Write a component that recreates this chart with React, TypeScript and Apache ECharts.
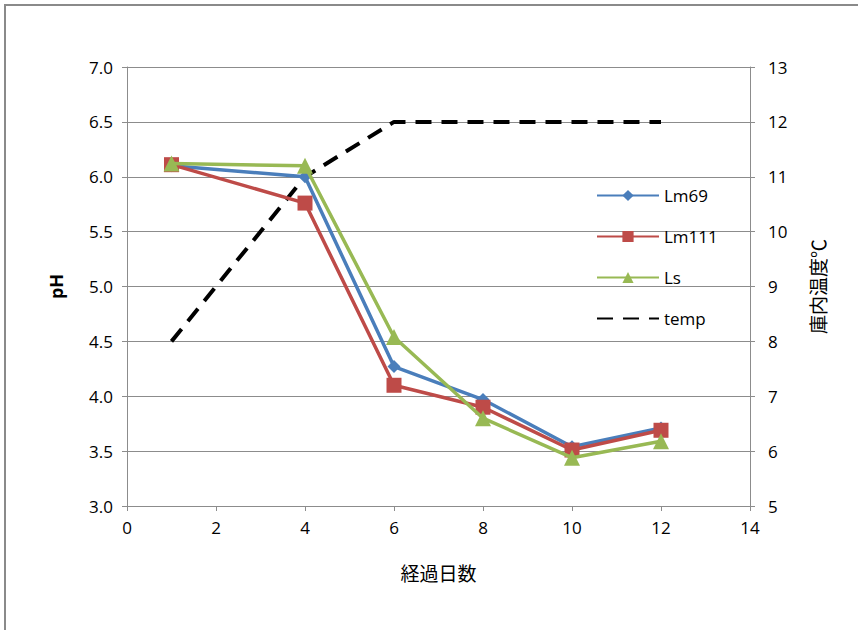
import React, { useEffect, useRef } from "react";
import * as echarts from "echarts";

// Storage days and measured values
const days = [1, 4, 6, 8, 10, 12];
const lm69 = [6.1, 6.0, 4.27, 3.97, 3.54, 3.71];
const lm111 = [6.11, 5.76, 4.1, 3.9, 3.51, 3.69];
const ls = [6.12, 6.1, 4.54, 3.8, 3.44, 3.59];
const temp = [8, 11, 12, 12, 12, 12];

const seriesNames = ["Lm69", "Lm111", "Ls", "temp"];
const xTitle = "経過日数";
const yLeftTitle = "pH";
const yRightTitle = "庫内温度℃";

const FONT = "'Open Sans', 'Liberation Sans', 'Noto Sans CJK JP', sans-serif";
const JP_FONT = "'Noto Sans CJK JP', sans-serif";
const GRID_GRAY = "#8c8c8c";

const pairs = (ys: number[]) => days.map((d, i) => [d, ys[i]]);

export default function App() {
  const ref = useRef<HTMLDivElement>(null);

  useEffect(() => {
    if (!ref.current) return;
    const chart = echarts.init(ref.current, undefined, { renderer: "svg" });
    const axisLine = { show: true, lineStyle: { color: GRID_GRAY, width: 1 } };
    const axisTick = { show: true, inside: false, length: 5, lineStyle: { color: GRID_GRAY } };
    const labelStyle = { color: "#000", fontSize: 17, fontFamily: FONT };

    chart.setOption({
      animation: false,
      backgroundColor: "#fff",
      graphic: [
        {
          type: "rect",
          shape: { x: 5, y: 5, width: 900, height: 700 },
          style: { fill: "none", stroke: "#8a8a8a", lineWidth: 2 },
          silent: true,
        },
      ],
      grid: { left: 127, top: 67, width: 623, height: 439, containLabel: false },
      legend: {
        orient: "vertical",
        left: 591,
        top: 182,
        itemWidth: 62,
        itemHeight: 14,
        itemGap: 24,
        textStyle: { color: "#000", fontSize: 17, fontFamily: FONT },
        data: [
          "Lm69",
          "Lm111",
          "Ls",
          { name: seriesNames[3], itemStyle: { opacity: 0 } },
        ],
      },
      xAxis: {
        type: "value",
        min: 0,
        max: 14,
        interval: 2,
        axisLine,
        axisTick,
        splitLine: { show: false },
        axisLabel: { ...labelStyle, margin: 13 },
        name: xTitle,
        nameLocation: "middle",
        nameGap: 57,
        nameTextStyle: { color: "#000", fontSize: 19, fontFamily: JP_FONT },
      },
      yAxis: [
        {
          type: "value",
          min: 3,
          max: 7,
          interval: 0.5,
          axisLine,
          axisTick,
          splitLine: { show: true, lineStyle: { color: GRID_GRAY, width: 1 } },
          axisLabel: { ...labelStyle, margin: 14, formatter: (v: number) => v.toFixed(1) },
          name: yLeftTitle,
          nameLocation: "middle",
          nameRotate: 90,
          nameGap: 62,
          nameTextStyle: { color: "#000", fontSize: 18, fontWeight: "bold", fontFamily: FONT },
        },
        {
          type: "value",
          position: "right",
          min: 5,
          max: 13,
          interval: 1,
          axisLine,
          axisTick,
          splitLine: { show: false },
          axisLabel: { ...labelStyle, margin: 18 },
          name: yRightTitle,
          nameLocation: "middle",
          nameRotate: 90,
          nameGap: 58,
          nameTextStyle: { color: "#000", fontSize: 19, fontFamily: JP_FONT },
        },
      ],
      series: [
        {
          name: "Lm69",
          type: "line",
          data: pairs(lm69),
          symbol: "diamond",
          symbolSize: 13,
          lineStyle: { color: "#4a7ebb", width: 3.5 },
          itemStyle: { color: "#4a7ebb" },
          z: 3,
        },
        {
          name: "Lm111",
          type: "line",
          data: pairs(lm111),
          symbol: "rect",
          symbolSize: 15,
          lineStyle: { color: "#be4b48", width: 3.5 },
          itemStyle: { color: "#be4b48" },
          z: 4,
        },
        {
          name: "Ls",
          type: "line",
          data: pairs(ls),
          symbol: "triangle",
          symbolSize: 16,
          lineStyle: { color: "#98b954", width: 3.5 },
          itemStyle: { color: "#98b954" },
          z: 5,
        },
        {
          name: "temp",
          type: "line",
          yAxisIndex: 1,
          data: pairs(temp),
          symbol: "none",
          lineStyle: { color: "#000", width: 4, type: [16, 10] },
          itemStyle: { color: "#000" },
          z: 2,
        },
      ],
    });
    return () => chart.dispose();
  }, []);

  return (
    <div
      ref={ref}
      style={{ position: "fixed", left: 0, top: 0, width: 858, height: 630, background: "#fff" }}
    />
  );
}
